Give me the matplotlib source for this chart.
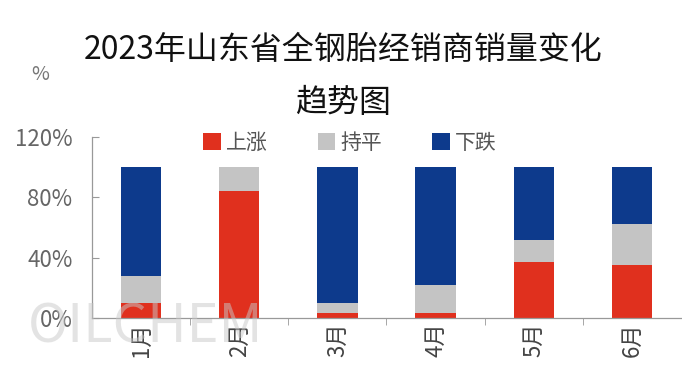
import matplotlib
matplotlib.use("Agg")
import matplotlib.pyplot as plt
from matplotlib.patches import Patch
import numpy as np

plt.rcParams['font.family'] = ['Noto Sans CJK SC', 'DejaVu Sans']

months = ["1月", "2月", "3月", "4月", "5月", "6月"]
rise = [10, 84, 3, 3, 37, 35]
flat = [18, 16, 7, 19, 15, 27]
fall = [72, 0, 90, 78, 48, 38]
series_names = ["上涨", "持平", "下跌"]
colors = ["#E0301E", "#C4C4C4", "#0D3A8C"]
yticks = [0, 40, 80, 120]
ytick_labels = ["0%", "40%", "80%", "120%"]
title = "2023年山东省全钢胎经销商销量变化"
title2 = "趋势图"

fig = plt.figure(figsize=(6.82, 3.78), dpi=100)
ax = fig.add_axes([92/682, 1-318/378, 589/682, (318-137)/378])

x = np.arange(len(months))
w = 0.41
rise_a = np.array(rise); flat_a = np.array(flat); fall_a = np.array(fall)
ax.bar(x, rise_a, w, color=colors[0], label=series_names[0], zorder=2)
ax.bar(x, flat_a, w, bottom=rise_a, color=colors[1], label=series_names[1], zorder=2)
ax.bar(x, fall_a, w, bottom=rise_a + flat_a, color=colors[2], label=series_names[2], zorder=2)

ax.set_xlim(-0.5, len(months) - 0.5)
ax.set_ylim(0, 120)
ax.set_yticks(yticks)
ax.set_yticklabels(ytick_labels, fontsize=16, color="#666666")
ax.tick_params(axis='y', direction='in', length=5, color="#999999", pad=14)
ax.set_xticks(x)
ax.set_xticklabels(months, rotation=90, fontsize=16, color="#444444")
ax.tick_params(axis='x', which='major', length=0, pad=3)
ax.set_xticks(np.arange(0.5, len(months) - 1, 1), minor=True)
ax.tick_params(axis='x', which='minor', direction='out', length=5, color="#999999")

for s in ["top", "right"]:
    ax.spines[s].set_visible(False)
for s in ["left", "bottom"]:
    ax.spines[s].set_color("#999999")
    ax.spines[s].set_linewidth(0.9)

fig.text(0.503, 1-50/378, title, ha='center', va='center', fontsize=23, color="#111111")
fig.text(0.503, 1-103/378, title2, ha='center', va='center', fontsize=23, color="#111111")
fig.text(40/682, 1-75/378, "%", ha='center', va='center', fontsize=14, color="#777777")

handles = [Patch(facecolor=c, edgecolor='none') for c in colors]
fig.legend(handles, series_names, loc='center', bbox_to_anchor=(350/682, 1-143/378),
           ncol=3, frameon=False, fontsize=15, handlelength=0.85, handleheight=0.85,
           handletextpad=0.25, columnspacing=2.4, labelcolor="#555555")

fig.text(28/682, 1-327/378, "OILCHEM", ha='left', va='center', fontsize=39,
         color="#c8c8c8", alpha=0.5, fontweight='light', zorder=10)

fig.savefig("out.png", dpi=100, facecolor="white")
